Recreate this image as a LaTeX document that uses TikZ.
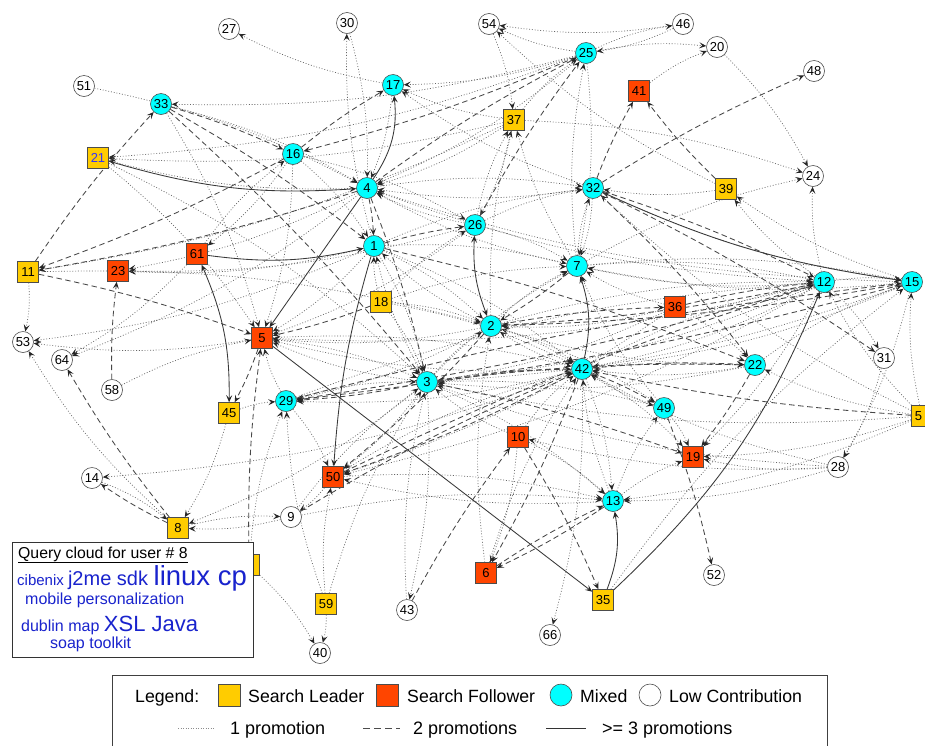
\documentclass[tikz,border=0pt]{standalone}
\usepackage{fontspec}
\setmainfont{Liberation Sans}
\usetikzlibrary{arrows.meta}
\pgfdeclarelayer{edges}
\pgfdeclarelayer{bg}
\pgfsetlayers{bg,edges,main}
\definecolor{leader}{RGB}{255,204,0}
\definecolor{follower}{RGB}{255,69,0}
\definecolor{mixed}{RGB}{0,255,255}
\definecolor{cloudblue}{RGB}{25,35,205}
\definecolor{labelblue}{RGB}{50,50,255}
\begin{document}
\begin{tikzpicture}[x=1pt,y=-1pt,
  lbl/.style={font=\fontsize{13}{13}\selectfont, inner sep=0pt, draw=black!70, line width=0.6pt},
  low/.style={lbl, circle, minimum size=21pt, fill=white},
  mix/.style={lbl, circle, minimum size=21pt, fill=mixed},
  lead/.style={lbl, rectangle, minimum size=21pt, fill=leader},
  foll/.style={lbl, rectangle, minimum size=21pt, fill=follower},
  tip/.style={-{Stealth[length=7pt,width=6pt,inset=3pt,color=black!85]}},
  dtip/.style={{Stealth[length=7pt,width=6pt,inset=3pt,color=black!85]}-{Stealth[length=7pt,width=6pt,inset=3pt,color=black!85]}},
  dotedge/.style={tip, draw=black!60, line width=0.7pt, dash pattern=on 0.9pt off 1.9pt},
  dashedge/.style={tip, draw=black!72, line width=0.85pt, dash pattern=on 5.5pt off 3.5pt},
  solidedge/.style={tip, draw=black!78, line width=0.85pt},
  legtext/.style={anchor=base west, inner sep=0pt, font=\fontsize{17.7}{17.7}\selectfont},
  cloudtext/.style={anchor=base west, inner sep=0pt, text=cloudblue}
]
\useasboundingbox (0,0) rectangle (925,745);
\begin{pgfonlayer}{bg}
\fill[white] (0,0) rectangle (925,745);
\end{pgfonlayer}

% low contribution
\node[low] (n27) at (229,29) {27};
\node[low] (n30) at (347,23) {30};
\node[low] (n54) at (489,24) {54};
\node[low] (n46) at (683,24) {46};
\node[low] (n20) at (717,47) {20};
\node[low] (n48) at (814,71) {48};
\node[low] (n51) at (84,86) {51};
\node[low] (n24) at (813,176) {24};
\node[low] (n53) at (23,342) {53};
\node[low] (n64) at (62,360) {64};
\node[low] (n58) at (112,390) {58};
\node[low] (n31) at (884,358) {31};
\node[low] (n14) at (92,478) {14};
\node[low] (n28) at (838,467) {28};
\node[low] (n9) at (291,517) {9};
\node[low] (n52) at (714,575) {52};
\node[low] (n43) at (407,610) {43};
\node[low] (n66) at (550,635) {66};
\node[low] (n40) at (320,653) {40};
% mixed
\node[mix] (n33) at (161,104) {33};
\node[mix] (n17) at (393,85) {17};
\node[mix] (n25) at (586,53) {25};
\node[mix] (n16) at (293,154) {16};
\node[mix] (n4) at (367,188) {4};
\node[mix] (n32) at (593,188) {32};
\node[mix] (n26) at (475,225) {26};
\node[mix] (n1) at (374,246) {1};
\node[mix] (n7) at (577,266) {7};
\node[mix] (n12) at (824,282) {12};
\node[mix] (n15) at (912,282) {15};
\node[mix] (n2) at (491,326) {2};
\node[mix] (n22) at (755,365) {22};
\node[mix] (n42) at (582,369) {42};
\node[mix] (n3) at (427,382) {3};
\node[mix] (n29) at (286,401) {29};
\node[mix] (n49) at (664,408) {49};
\node[mix] (n13) at (613,501) {13};
% search leaders
\node[lead] (n37) at (514,120) {37};
\node[lead, text=labelblue] (n21) at (98,158) {21};
\node[lead] (n39) at (726,189) {39};
\node[lead] (n11) at (28,272) {11};
\node[lead] (n18) at (381,302) {18};
\node[lead] (n45) at (229,413) {45};
\node[lead] (n5x) at (922,416) {5\phantom{5}};
\node[lead] (n8) at (178,528) {8};
\node[lead] (n38) at (249,565) {};
\node[lead] (n59) at (326,604) {59};
\node[lead] (n35) at (603,600) {35};
% search followers
\node[foll] (n41) at (639,91) {41};
\node[foll] (n61) at (197,254) {61};
\node[foll] (n23) at (118,271) {23};
\node[foll] (n36) at (675,307) {36};
\node[foll] (n5) at (262,338) {5};
\node[foll] (n10) at (518,437) {10};
\node[foll] (n19) at (693,457) {19};
\node[foll] (n50) at (333,477) {50};
\node[foll] (n6) at (486,573) {6};

\begin{pgfonlayer}{edges}
% ---------- 1 promotion (dotted) ----------
\foreach \a/\b in {17/27, 1/30, 30/4, 51/4, 25/33, 25/21, 33/4, 21/5, 61/16, 4/23, 1/23, 16/61,
  37/11, 46/54, 25/54, 25/46, 25/20, 41/20, 54/37, 39/54, 20/24, 37/24, 7/24, 15/39, 12/39,
  26/37, 7/37, 2/37, 7/25, 32/7, 25/7, 37/26, 5x/32, 15/32, 11/53, 5/53, 61/64, 58/5, 8/53,
  14/8, 42/14, 45/8, 9/8, 45/29, 2/29, 42/29, 12/50, 36/50, 50/9, 9/13, 12/31, 31/28, 15/28,
  28/10, 28/42, 28/13, 28/3, 10/13, 42/13, 3/13, 10/6, 3/43, 42/66, 16/1, 3/1, 2/1, 18/1,
  26/4, 7/4, 32/4, 37/4, 25/4, 12/4, 15/4, 25/17, 37/17, 32/17, 1/7, 26/7, 3/7, 2/7, 12/7,
  15/7, 49/7, 36/7, 1/2, 3/2, 18/2, 42/2, 22/2, 1/3, 18/3, 5/3, 22/3, 12/3, 15/3, 5x/3,
  29/3, 10/3, 1/42, 2/42, 12/42, 15/42, 22/42, 13/42, 10/42, 50/42, 49/42, 5/42, 18/42,
  12/15, 22/15, 7/15, 2/12, 42/12, 7/12, 39/32, 26/32, 7/32, 1/32, 4/32, 1/5, 3/5, 42/5,
  29/5, 26/5, 16/5, 2/5, 12/5, 4/21, 37/21, 29/50, 3/50, 13/50, 38/40, 59/40, 59/29, 59/3,
  13/49, 3/49, 2/49, 49/19, 12/19, 42/19, 13/19, 28/19, 5x/19, 5x/12, 5x/15, 5x/22, 5x/13,
  35/15, 36/2, 36/3, 36/22, 37/25, 46/25, 12/24, 38/29, 8/9, 3/8, 1/53, 26/23, 4/64, 33/5,
  21/3, 11/2, 16/26, 17/4, 18/26, 18/7, 29/12, 50/13, 9/3, 6/42, 43/3, 6/2, 59/50}
  \draw[dotedge] (n\a) to[bend left=8] (n\b);

% ---------- 2 promotions (dashed) ----------
\foreach \a/\b in {33/16, 11/33, 4/11, 25/16, 4/25, 16/17, 32/41, 39/41, 32/48, 11/5, 58/23,
  8/64, 8/14, 5/45, 18/5, 38/5, 3/29, 1/26, 2/36, 42/49, 5x/42, 22/19, 3/19, 49/52, 13/6,
  6/13, 42/6, 43/10, 10/35, 12/2, 15/2, 12/29, 15/29, 2/50, 42/50, 9/42, 32/12, 32/22, 4/1,
  33/1, 33/3, 7/2, 42/22, 3/22, 1/22, 4/3, 36/12, 50/12, 29/15, 26/25, 32/31, 3/42, 16/11}
  \draw[dashedge] (n\a) to[bend left=4] (n\b);

% ---------- >= 3 promotions (solid) ----------
\draw[solidedge] (n21) to[bend right=10] (n4);
\draw[solidedge] (n61) to[bend right=10] (n1);
\draw[solidedge] (n4) to[bend right=20] (n17);
\draw[solidedge] (n4) to (n5);
\draw[solidedge] (n1) to[bend right=6] (n50);
\draw[solidedge, dtip] (n61) to[bend left=12] (n45);
\draw[solidedge] (n5) to (n35);
\draw[solidedge] (n35) to[bend right=15] (n13);
\draw[solidedge] (n35) to[bend right=12] (n12);
\draw[solidedge] (n32) to[bend right=8] (n15);
\draw[solidedge] (n42) to[bend right=15] (n7);
\draw[solidedge, dtip] (n26) to[bend right=12] (n2);
\end{pgfonlayer}

% ---------- query cloud ----------
\node[draw=black!80, line width=1pt, fill=white, inner sep=0pt, minimum width=241pt, minimum height=115pt, anchor=north west] (cloud) at (12,542) {};
\node[cloudtext, text=black, font=\fontsize{15.8}{15.8}\selectfont] (ct0) at (18,558) {\underline{Query cloud for user \# 8}};
\node[cloudtext] (ct1) at (17,585) {\fontsize{15}{15}\selectfont cibenix \fontsize{20}{20}\selectfont j2me sdk \fontsize{27.5}{27.5}\selectfont linux cp};
\node[cloudtext, font=\fontsize{16}{16}\selectfont] (ct2) at (25,604) {mobile personalization};
\node[cloudtext] (ct3) at (21,631) {\fontsize{16}{16}\selectfont dublin map \fontsize{22}{22}\selectfont XSL Java};
\node[cloudtext, font=\fontsize{16}{16}\selectfont] (ct4) at (50,648) {soap toolkit};

% ---------- legend ----------
\draw[draw=black!75, line width=1pt, fill=white] (112,675) rectangle (827,760);
\node[legtext] (lg0) at (135,702) {Legend:};
\node[lbl, rectangle, minimum size=22pt, fill=leader] (lgA) at (229,695) {};
\node[legtext] (lg1) at (248,702) {Search Leader};
\node[lbl, rectangle, minimum size=22pt, fill=follower] (lgB) at (387,695) {};
\node[legtext] (lg2) at (407,702) {Search Follower};
\node[lbl, circle, minimum size=22pt, fill=mixed] (lgC) at (561,695) {};
\node[legtext] (lg3) at (580,702) {Mixed};
\node[lbl, circle, minimum size=22pt, fill=white] (lgD) at (650,695) {};
\node[legtext] (lg4) at (669,702) {Low Contribution};
\coordinate (la1) at (178,728); \coordinate (la2) at (215,728);
\draw[draw=black!45, line width=1pt, dash pattern=on 1pt off 1.5pt] (la1) -- (la2);
\node[legtext, font=\fontsize{18}{18}\selectfont] (lg5) at (230,734) {1 promotion};
\coordinate (lb1) at (363,728); \coordinate (lb2) at (400,728);
\draw[draw=black!70, line width=1pt, dash pattern=on 7pt off 4pt] (lb1) -- (lb2);
\node[legtext, font=\fontsize{18}{18}\selectfont] (lg6) at (413,734) {2 promotions};
\coordinate (lc1) at (546,728); \coordinate (lc2) at (586,728);
\draw[draw=black!80, line width=1pt] (lc1) -- (lc2);
\node[legtext, font=\fontsize{18}{18}\selectfont] (lg7) at (602,734) {>= 3 promotions};
\end{tikzpicture}
\end{document}
